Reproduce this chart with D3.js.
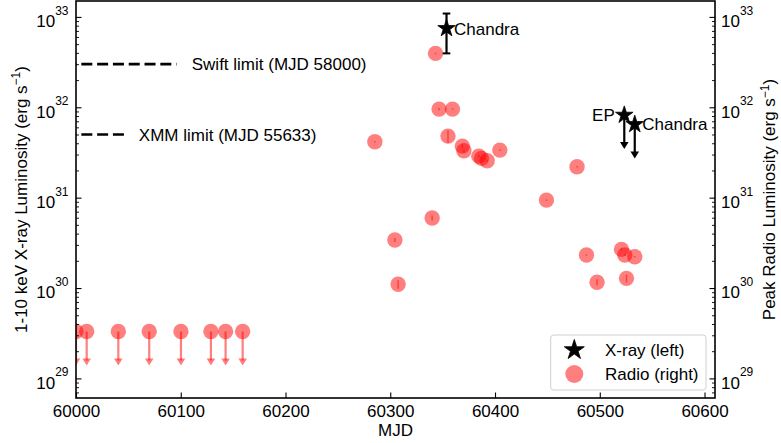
<!DOCTYPE html>
<html><head><meta charset="utf-8">
<script src="https://cdn.jsdelivr.net/npm/d3@7"></script>
<style>body{margin:0;background:#fff} text{font-family:"Liberation Sans",Arial,sans-serif;fill:#000}</style>
</head><body><svg id="c" width="781" height="443"></svg>
<script>
// ---- data ----
const radioMJD = [60285.3, 60343.2, 60346.6, 60359.4, 60355.1, 60368.8, 60370.3, 60384.5, 60387.1, 60392.5, 60404.6, 60478.3, 60449.1, 60340.0, 60304.4, 60307.5, 60487.3, 60520.7, 60523.9, 60533.4, 60497.4, 60525.5];
const radioLum = [4.15e31, 3.95e32, 9.55e31, 9.55e31, 4.8e31, 3.72e31, 3.3e31, 2.88e31, 2.72e31, 2.56e31, 3.36e31, 2.2e31, 9.4e30, 5.95e30, 3.4e30, 1.1e30, 2.32e30, 2.68e30, 2.32e30, 2.22e30, 1.16e30, 1.28e30];
const radioErr = [0.02, 0.02, 0.03, 0.02, 0.16, 0.05, 0.04, 0.03, 0.03, 0.02, 0.02, 0.02, 0.02, 0.06, 0.05, 0.11, 0.02, 0.03, 0.02, 0.02, 0.08, 0.1];
const radioLimMJD = [60000, 60010.2, 60040.4, 60069.9, 60100.2, 60128.8, 60142.8, 60159.1];
const radioLimLum = [3.3e29, 3.3e29, 3.3e29, 3.3e29, 3.3e29, 3.3e29, 3.3e29, 3.3e29];
const limitArrowFactor = 0.42;

const xrayMJD = [60353.7, 60523.4, 60533.4];
const xrayLum = [7.46e32, 8.2e31, 6.47e31];
const xrayLo = [3.95e32, null, null];
const xrayHi = [1.09e33, null, null];
const xrayIsLimit = [false, true, true];
const xrayNames = ["Chandra", "EP", "Chandra"];

const limitNames = ["Swift limit (MJD 58000)", "XMM limit (MJD 55633)"];
const limitLum = [3e32, 5e31];
const limitStart = [59990, 59990];
const limitEnd = [60096, 60049.3];
const limitTextMJD = [60110.5, 60060];

const xTicks = [60000, 60100, 60200, 60300, 60400, 60500, 60600];
const yTicks = [1e29, 1e30, 1e31, 1e32, 1e33];
const xDomain = [60000, 60610];
const yDomain = [6.07e28, 1.5e33];

// ---- layout ----
const L = 76, R = 715, T = 1, B = 398;
const FS = 17;
const svg = d3.select("#c");
const x = d3.scaleLinear().domain(xDomain).range([L, R]);
const y = d3.scaleLog().domain(yDomain).range([B, T]);
const y2 = d3.scaleLog().domain(yDomain).range([B, T]);

const minor = [];
for (let e = 28; e <= 33; e++) for (let m = 2; m <= 9; m++) {
  const v = m * Math.pow(10, e);
  if (v >= yDomain[0] && v <= yDomain[1]) minor.push(v);
}

svg.append("defs").append("clipPath").attr("id", "clip")
  .append("rect").attr("x", L).attr("y", T).attr("width", R - L).attr("height", B - T);

const plot = svg.append("g").attr("clip-path", "url(#clip)");

// limit lines
limitNames.forEach((n, i) => {
  plot.append("line").attr("x1", x(limitStart[i])).attr("x2", x(limitEnd[i]))
    .attr("y1", y(limitLum[i])).attr("y2", y(limitLum[i]))
    .attr("stroke", "#000").attr("stroke-width", 2.6).attr("stroke-dasharray", "11,4.8");
  plot.append("text").attr("x", x(limitTextMJD[i])).attr("y", y(limitLum[i])).attr("dy", "0.36em")
    .attr("font-size", FS).text(n);
});

// radio upper limits
const red = "#ff0000";
function arrowHead(g, cx, tipY, color, op) {
  g.append("path").attr("d", `M${cx - 4.3},${tipY - 7}L${cx + 4.3},${tipY - 7}L${cx},${tipY}Z`)
    .attr("fill", color).attr("fill-opacity", op);
}
radioLimMJD.forEach((m, i) => {
  const cx = x(m), cy = y2(radioLimLum[i]), tip = y2(radioLimLum[i] * limitArrowFactor);
  plot.append("circle").attr("cx", cx).attr("cy", cy).attr("r", 7.7).attr("fill", red).attr("fill-opacity", 0.5);
  plot.append("line").attr("x1", cx).attr("x2", cx).attr("y1", cy).attr("y2", tip - 5)
    .attr("stroke", red).attr("stroke-opacity", 0.5).attr("stroke-width", 2.2);
  arrowHead(plot, cx, tip, red, 0.5);
});

// radio detections
radioMJD.forEach((m, i) => {
  const cx = x(m), cy = y2(radioLum[i]);
  plot.append("circle").attr("cx", cx).attr("cy", cy).attr("r", 7.7).attr("fill", red).attr("fill-opacity", 0.5);
  plot.append("line").attr("x1", cx).attr("x2", cx)
    .attr("y1", y2(radioLum[i] * (1 + radioErr[i]))).attr("y2", y2(radioLum[i] * (1 - radioErr[i])))
    .attr("stroke", red).attr("stroke-opacity", 0.5).attr("stroke-width", 1.5);
});

// x-ray
const star = d3.symbol().type(d3.symbolStar).size(95);
xrayMJD.forEach((m, i) => {
  const cx = x(m), cy = y(xrayLum[i]);
  if (xrayIsLimit[i]) {
    const tip = y(xrayLum[i] * limitArrowFactor);
    plot.append("line").attr("x1", cx).attr("x2", cx).attr("y1", cy).attr("y2", tip - 5)
      .attr("stroke", "#000").attr("stroke-width", 2.2);
    arrowHead(plot, cx, tip, "#000", 1);
  } else {
    const y1 = y(xrayHi[i]), y0 = y(xrayLo[i]);
    plot.append("line").attr("x1", cx).attr("x2", cx).attr("y1", y1).attr("y2", y0).attr("stroke", "#000").attr("stroke-width", 2.2);
    [y1, y0].forEach(v => plot.append("line").attr("x1", cx - 3.8).attr("x2", cx + 3.8).attr("y1", v).attr("y2", v)
      .attr("stroke", "#000").attr("stroke-width", 2));
  }
  plot.append("path").attr("d", star).attr("transform", `translate(${cx},${cy})`).attr("fill", "#000")
    .attr("stroke", "#000").attr("stroke-width", 0.8).attr("stroke-linejoin", "miter");
  const t = plot.append("text").attr("y", cy).attr("dy", "0.36em").attr("font-size", FS).text(xrayNames[i]);
  if (xrayNames[i] === "EP") t.attr("x", cx - 9.5).attr("text-anchor", "end");
  else t.attr("x", cx + 7.5);
});

// ---- axes ----
function supLabels(sel, anchor) {
  sel.selectAll(".tick text").each(function (d) {
    const t = d3.select(this);
    t.text(null).attr("dy", 9.8).attr("font-size", FS).attr("text-anchor", anchor).attr("fill", "#000");
    t.append("tspan").text("10");
    t.append("tspan").attr("dy", -12.3).attr("font-size", 12).text(Math.round(Math.log10(d)));
  });
}
function styleAxis(g) {
  g.select(".domain").remove();
  g.selectAll(".tick line").attr("stroke", "#000").attr("stroke-width", 1.1);
}
const gx = svg.append("g").attr("transform", `translate(0,${B})`)
  .call(d3.axisBottom(x).tickValues(xTicks).tickSizeInner(-5.5).tickSizeOuter(0).tickPadding(6.5).tickFormat(d3.format("d")));
styleAxis(gx);
gx.selectAll(".tick text").attr("font-size", FS).attr("font-family", "Liberation Sans, Arial, sans-serif").attr("fill", "#000");

const gyL = svg.append("g").attr("transform", `translate(${L},0)`)
  .call(d3.axisLeft(y).tickValues(yTicks).tickSizeInner(-5.5).tickSizeOuter(0).tickPadding(7.7).tickFormat(() => ""));
styleAxis(gyL); supLabels(gyL, "end");
gyL.selectAll(".tick text").attr("x", -7.5);
const gyLm = svg.append("g").attr("transform", `translate(${L},0)`)
  .call(d3.axisLeft(y).tickValues(minor).tickSizeInner(-3).tickSizeOuter(0).tickFormat(() => ""));
styleAxis(gyLm); gyLm.selectAll(".tick line").attr("stroke-width", 0.9);

const gyR = svg.append("g").attr("transform", `translate(${R},0)`)
  .call(d3.axisRight(y2).tickValues(yTicks).tickSizeInner(-5.5).tickSizeOuter(0).tickPadding(6).tickFormat(() => ""));
styleAxis(gyR); supLabels(gyR, "start");
gyR.selectAll(".tick text").attr("x", 6);
const gyRm = svg.append("g").attr("transform", `translate(${R},0)`)
  .call(d3.axisRight(y2).tickValues(minor).tickSizeInner(-3).tickSizeOuter(0).tickFormat(() => ""));
styleAxis(gyRm); gyRm.selectAll(".tick line").attr("stroke-width", 0.9);

svg.append("rect").attr("x", L).attr("y", T).attr("width", R - L).attr("height", B - T)
  .attr("fill", "none").attr("stroke", "#000").attr("stroke-width", 1.6);

// axis labels
svg.append("text").attr("x", (L + R) / 2).attr("y", 436).attr("text-anchor", "middle").attr("font-size", FS).text("MJD");
function ylab(xp, yp, txt) {
  const t = svg.append("text").attr("transform", `translate(${xp},${yp}) rotate(-90)`).attr("text-anchor", "middle").attr("font-size", FS);
  t.append("tspan").text(txt + " (erg s");
  t.append("tspan").attr("dy", -6.5).attr("font-size", 12).text("\u22121");
  t.append("tspan").attr("dy", 6.5).text(")");
}
ylab(26.5, (T + B) / 2, "1-10 keV X-ray Luminosity");
ylab(775, (T + B) / 2, "Peak Radio Luminosity");

// legend
const lg = svg.append("g");
lg.append("rect").attr("x", 550.7).attr("y", 335).attr("width", 155.3).attr("height", 55).attr("rx", 3)
  .attr("fill", "#fff").attr("fill-opacity", 0.8).attr("stroke", "#d0d0d0").attr("stroke-width", 1);
lg.append("path").attr("d", d3.symbol().type(d3.symbolStar).size(125)).attr("transform", "translate(574.3,350)").attr("fill", "#000")
  .attr("stroke", "#000").attr("stroke-width", 0.8);
lg.append("circle").attr("cx", 574.3).attr("cy", 374).attr("r", 9).attr("fill", red).attr("fill-opacity", 0.5);
lg.append("text").attr("x", 605).attr("y", 350).attr("dy", "0.36em").attr("font-size", FS).text("X-ray (left)");
lg.append("text").attr("x", 605).attr("y", 374).attr("dy", "0.36em").attr("font-size", FS).text("Radio (right)");
</script></body></html>
